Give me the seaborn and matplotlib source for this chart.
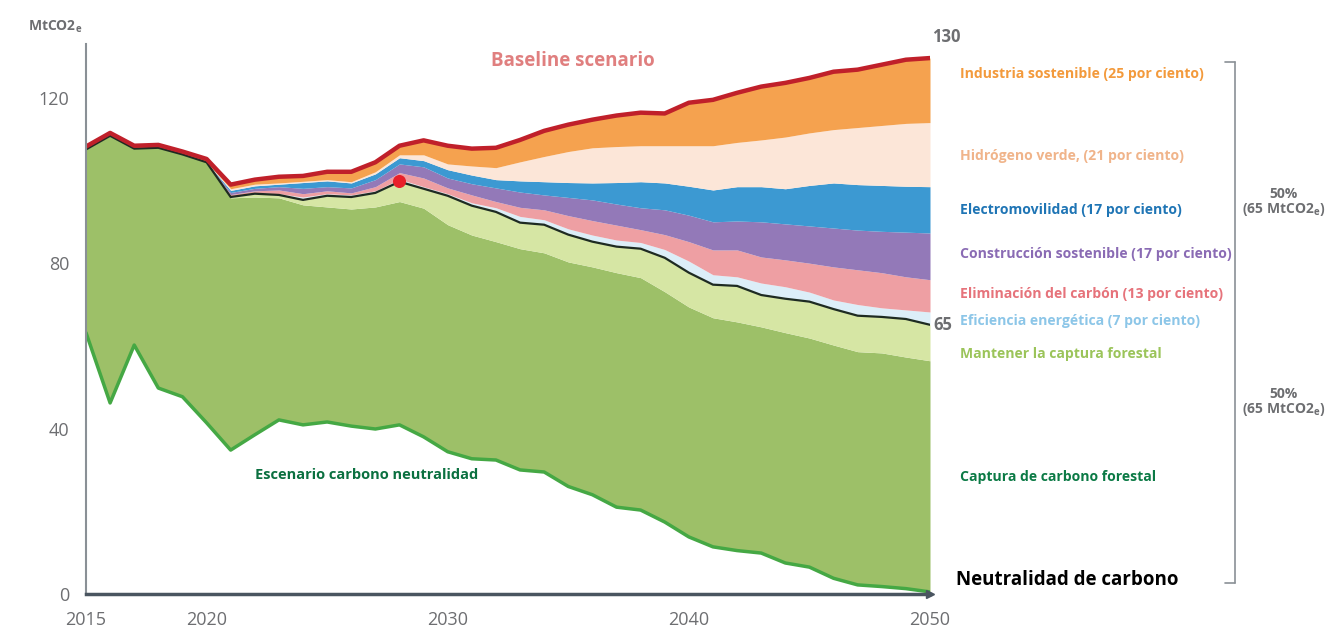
import numpy as np
import matplotlib.pyplot as plt
import seaborn as sns
from matplotlib.lines import Line2D

# --- data (MtCO2e), cumulative levels per year ---
years = list(range(2015, 2051))

# net emissions in the carbon-neutrality scenario (bottom green line)
neutral = [63.2, 46.2, 60.2, 49.8, 47.7, 41.4, 34.8, 38.5, 42.1, 40.9,
           41.6, 40.6, 39.9, 40.9, 38.0, 34.4, 32.7, 32.4, 30.0, 29.5,
           26.0, 24.0, 21.0, 20.3, 17.4, 13.8, 11.4, 10.5, 9.9, 7.5,
           6.5, 3.8, 2.2, 1.8, 1.3, 0.5]
# top of "Captura de carbono forestal"
forest = [107.5, 110.8, 107.7, 107.9, 106.3, 104.4, 95.8, 96.0, 95.8, 94.1,
          93.6, 93.1, 93.6, 94.9, 93.3, 89.3, 86.8, 85.2, 83.5, 82.5,
          80.3, 79.1, 77.7, 76.5, 73.1, 69.4, 66.8, 65.8, 64.6, 63.2,
          61.9, 60.2, 58.6, 58.3, 57.3, 56.4]
# top of "Mantener la captura forestal" (black line, 65 in 2050)
keep = [107.5, 110.8, 107.7, 107.9, 106.3, 104.4, 96.0, 96.8, 96.5, 95.3,
        96.3, 96.0, 97.0, 99.7, 98.0, 96.3, 93.9, 92.4, 89.8, 89.3,
        86.9, 85.2, 84.0, 83.5, 81.3, 77.7, 74.8, 74.5, 72.3, 71.4,
        70.7, 68.9, 67.3, 67.0, 66.5, 65.1]
# top of "Eficiencia energética"
efficiency = [107.5, 110.8, 107.7, 107.9, 106.3, 104.4, 96.2, 97.0, 96.8, 96.0,
              96.8, 96.5, 97.5, 100.3, 98.5, 96.8, 94.6, 93.4, 91.3, 90.5,
              88.3, 86.8, 85.6, 85.0, 83.3, 80.5, 77.2, 76.7, 75.2, 74.3,
              73.0, 71.1, 70.0, 69.2, 68.7, 68.2]
# top of "Eliminación del carbón"
coal = [107.5, 110.8, 107.7, 107.9, 106.3, 104.4, 96.6, 97.5, 97.7, 96.8,
        97.5, 97.0, 98.5, 101.9, 100.6, 98.2, 96.5, 94.9, 93.5, 92.9,
        91.5, 90.3, 89.2, 88.1, 86.9, 85.2, 83.2, 83.2, 81.5, 80.8,
        80.0, 79.1, 78.4, 77.7, 76.7, 76.0]
# top of "Construcción sostenible"
building = [107.5, 110.8, 107.7, 107.9, 106.3, 104.4, 97.1, 98.1, 98.5, 98.1,
            98.5, 98.2, 100.2, 104.0, 103.3, 100.6, 99.2, 98.2, 97.2, 96.5,
            95.9, 95.3, 94.3, 93.4, 92.9, 91.6, 90.0, 90.2, 90.0, 89.5,
            89.0, 88.5, 88.0, 87.7, 87.5, 87.3]
# top of "Electromovilidad"
emobility = [107.5, 110.8, 107.7, 107.9, 106.3, 104.4, 97.6, 98.7, 99.1, 99.5,
             99.9, 99.4, 101.6, 105.5, 104.8, 102.6, 101.3, 100.2, 99.9, 99.7,
             99.5, 99.4, 99.5, 99.7, 99.4, 98.6, 97.7, 98.5, 98.5, 98.0,
             98.8, 99.4, 99.0, 98.8, 98.6, 98.5]
# top of "Hidrógeno verde"
hydrogen = [107.5, 110.8, 107.7, 107.9, 106.3, 104.4, 98.0, 99.1, 99.4, 99.8,
            100.2, 99.7, 102.1, 106.2, 106.2, 104.0, 103.5, 103.1, 104.5, 105.8,
            107.0, 107.9, 108.2, 108.4, 108.4, 108.4, 108.4, 109.2, 109.8, 110.5,
            111.5, 112.3, 112.8, 113.3, 113.8, 114.0]
# baseline scenario total (top of "Industria sostenible")
baseline = [108.2, 111.5, 108.4, 108.6, 107.0, 105.2, 99.0, 100.2, 100.9, 101.1,
            102.1, 102.1, 104.4, 108.4, 109.7, 108.4, 107.7, 107.9, 109.8, 112.0,
            113.5, 114.7, 115.7, 116.4, 116.2, 118.8, 119.5, 121.2, 122.7, 123.6,
            124.8, 126.3, 126.8, 128.0, 129.2, 129.6]

marker_year = 2028
marker_value = 99.9

levels = [neutral, forest, keep, efficiency, coal, building, emobility, hydrogen, baseline]
layer_colors = ["#9dc068", "#d6e6a4", "#dceef8", "#ee9fa3", "#9379b8",
                "#3c99d2", "#fce6d8", "#f5a24f"]

labels = ["Industria sostenible (25 por ciento)", "Hidrógeno verde, (21 por ciento)",
          "Electromovilidad (17 por ciento)", "Construcción sostenible (17 por ciento)",
          "Eliminación del carbón (13 por ciento)", "Eficiencia energética (7 por ciento)",
          "Mantener la captura forestal", "Captura de carbono forestal"]
label_colors = ["#f39a3c", "#f0b48a", "#1f75b5", "#8a6bb4", "#e6737b",
                "#8cc6e8", "#9bc45a", "#0b7a45"]
label_ys = [74, 156, 210, 254, 294, 321, 354, 477]

sns.set_style("white")
plt.rcParams["font.family"] = ["Open Sans", "DejaVu Sans"]

W, H = 1328, 629
fig = plt.figure(figsize=(W / 100, H / 100), dpi=100)
ax = fig.add_axes([86 / W, 1 - 594 / H, (930 - 86) / W, (594 - 44) / H])

x = np.array(years)
for lo, hi, c in zip(levels[:-1], levels[1:], layer_colors):
    ax.fill_between(x, lo, hi, color=c, linewidth=0)

sns.lineplot(x=years, y=keep, color="#1e2b22", linewidth=1.6, ax=ax)
sns.lineplot(x=years, y=baseline, color="#c0202a", linewidth=3.2, ax=ax)
sns.lineplot(x=years, y=neutral, color="#45a844", linewidth=2.5, ax=ax)
ax.scatter([marker_year], [marker_value], s=70, color="#e8202a", zorder=5)

ax.set_xlim(2015, 2050)
ax.set_ylim(0, 133)
ax.set_xticks(range(2015, 2051, 5))
ax.set_xticklabels(["2015", "2020", "", "2030", "", "2040", "", "2050"])
ax.set_yticks([0, 40, 80, 120])
ax.tick_params(axis="both", labelsize=13, labelcolor="#6d6e71", color="#8a9096",
               length=7, width=1.2, direction="out")
ax.tick_params(axis="x", pad=5, color="#4a5560")
ax.tick_params(axis="y", pad=5)
for s in ["top", "right"]:
    ax.spines[s].set_visible(False)
ax.spines["left"].set_color("#8a9096")
ax.spines["left"].set_linewidth(1.5)
ax.spines["bottom"].set_color("#4a5560")
ax.spines["bottom"].set_linewidth(2.5)
ax.plot(1, 0, ">", color="#4a5560", ms=6, transform=ax.get_yaxis_transform(), clip_on=False)
ax.plot(0, 1, "^", color="#8a9096", ms=5, transform=ax.get_xaxis_transform(), clip_on=False)
ax.set_xlabel("")
ax.set_ylabel("")

# in-chart annotations
fig.text(28 / W, 1 - 27 / H, "MtCO2$_\\mathregular{e}$", fontsize=10, fontweight="bold",
         color="#6d6e71", va="center", ha="left")
fig.text(573 / W, 1 - 61 / H, "Baseline scenario", fontsize=13.5, fontweight="bold",
         color="#e07f7f", ha="center", va="center")
fig.text(367 / W, 1 - 475 / H, "Escenario carbono neutralidad", fontsize=10.5, fontweight="bold",
         color="#0b7040", ha="center", va="center")
fig.text(946 / W, 1 - 37 / H, "130", fontsize=12, fontweight="bold", color="#6d6e71",
         ha="center", va="center")
fig.text(943 / W, 1 - 325 / H, "65", fontsize=12, fontweight="bold", color="#6d6e71",
         ha="center", va="center")

# right-hand labels
for txt, c, y in zip(labels, label_colors, label_ys):
    fig.text(960 / W, 1 - y / H, txt, fontsize=10.1, fontweight="bold", color=c,
             ha="left", va="center")
fig.text(956 / W, 1 - 580 / H, "Neutralidad de carbono", fontsize=13.5, fontweight="bold",
         color="black", ha="left", va="center")

# bracket
br = "#8a9096"
fig.add_artist(Line2D([1235 / W, 1235 / W], [1 - 62 / H, 1 - 583 / H], color=br, lw=1.2))
fig.add_artist(Line2D([1225 / W, 1235 / W], [1 - 62 / H, 1 - 62 / H], color=br, lw=1.2))
fig.add_artist(Line2D([1225 / W, 1235 / W], [1 - 583 / H, 1 - 583 / H], color=br, lw=1.2))
for y in [202, 403]:
    fig.text(1284 / W, 1 - y / H, "50%\n(65 MtCO2$_\\mathregular{e}$)", fontsize=10, fontweight="bold",
             color="#6d6e71", ha="center", va="center", linespacing=1.0)

fig.savefig("out.png", dpi=100)
